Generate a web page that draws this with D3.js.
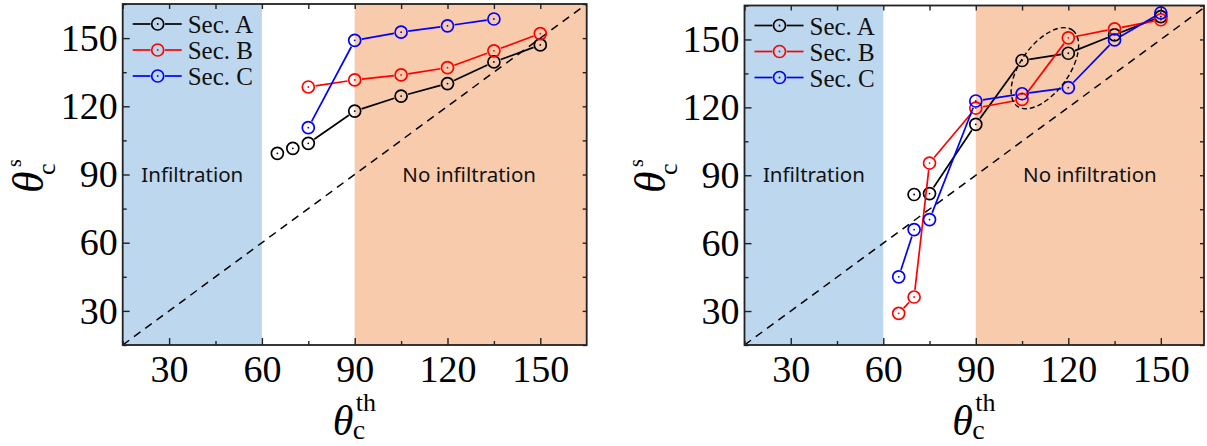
<!DOCTYPE html>
<html>
<head>
<meta charset="utf-8">
<script src="https://cdn.jsdelivr.net/npm/d3@7"></script>
<style>
  body { margin: 0; background: #fff; }
  svg text { font-family: "Liberation Serif", "Times New Roman", serif; }
  .zone { font-family: "Noto Sans", "Open Sans", sans-serif !important; font-size: 20.5px; }
</style>
</head>
<body>
<div id="chart"></div>
<script>
// values, theta_th on x, theta_s on y
var thetaTh = [65, 70, 75, 90, 105, 120, 135, 150];
var leftSecA = [99.3, 101.5, 103.7, 117.9, 124.5, 130, 139.5, 147];
var leftSecB = [null, null, 128.5, 131.6, 133.8, 137, 144.4, 152];
var leftSecC = [null, null, 110.6, 149, 152.6, 155.4, 158.4, null];
var rightSecA = [null, 81.5, 81.9, 112.5, 140.7, 143.9, 152, 160.1];
var rightSecB = [29, 36.2, 95.4, 119.7, 123.5, 150.7, 154.7, 158.7];
var rightSecC = [45.1, 66, 70.4, 122.8, 126, 128.7, 149.8, 161.7];

var sections = ["Sec. A", "Sec. B", "Sec. C"];
var colors = ["#000000", "#ff0000", "#0000ff"];
var majorTicks = [30, 60, 90, 120, 150];
var minorTicks = [15, 45, 75, 105, 135, 165];
var zones = [{label: "Infiltration", from: 15, to: 60, at: 37.5, fill: "#bdd7ee"},
             {label: "No infiltration", from: 90, to: 165, at: 127, fill: "#f8cbad"}];

var svg = d3.select("#chart").append("svg")
    .attr("width", 1207)
    .attr("height", 446);

var r = 6, gap = 1.2, lw = 1.7;

function drawPanel(id, left, right, top, xMax, series, ellipse) {
  var bottom = 345;
  var x = d3.scaleLinear().domain([15, xMax]).range([left, right]);
  var y = d3.scaleLinear().domain([15, 165]).range([bottom, top]);
  var g = svg.append("g");

  g.append("clipPath").attr("id", id)
    .append("rect")
      .attr("x", left).attr("y", top)
      .attr("width", right - left).attr("height", bottom - top);

  g.selectAll(".zone-bg")
      .data(zones)
    .enter().append("rect")
      .attr("x", function(d) { return x(d.from); })
      .attr("y", top)
      .attr("width", function(d) { return x(Math.min(d.to, xMax)) - x(d.from); })
      .attr("height", bottom - top)
      .attr("fill", function(d) { return d.fill; });

  g.selectAll(".zone")
      .data(zones)
    .enter().append("text")
      .attr("class", "zone")
      .attr("x", function(d) { return x(d.at); })
      .attr("y", y(90) + 7)
      .attr("text-anchor", "middle")
      .attr("fill", "#111")
      .text(function(d) { return d.label; });

  // y = x reference
  g.append("line")
    .attr("clip-path", "url(#" + id + ")")
    .attr("x1", x(15)).attr("y1", y(15))
    .attr("x2", x(xMax)).attr("y2", y(xMax))
    .attr("stroke", "#000")
    .attr("stroke-width", 1.5)
    .attr("stroke-dasharray", "8,6");

  series.forEach(function(vals, k) {
    var pts = [];
    vals.forEach(function(v, i) {
      if (v != null) pts.push({px: x(thetaTh[i]), py: y(v), i: i});
    });
    // line segments with a gap round each marker
    for (var j = 0; j < pts.length - 1; j++) {
      var a = pts[j], b = pts[j + 1];
      if (b.i != a.i + 1) continue;
      var dx = b.px - a.px, dy = b.py - a.py, len = Math.sqrt(dx * dx + dy * dy);
      var cut = r + gap;
      if (len - 2 * cut < 4) continue;
      g.append("line")
        .attr("x1", a.px + dx / len * cut).attr("y1", a.py + dy / len * cut)
        .attr("x2", b.px - dx / len * cut).attr("y2", b.py - dy / len * cut)
        .attr("stroke", colors[k])
        .attr("stroke-width", lw);
    }
    var m = g.selectAll(".m" + k)
        .data(pts)
      .enter().append("g")
        .attr("transform", function(d) { return "translate(" + d.px + "," + d.py + ")"; });
    m.append("circle").attr("r", r)
      .attr("fill", "none").attr("stroke", colors[k]).attr("stroke-width", lw);
    m.append("circle").attr("r", 0.9).attr("fill", colors[k]);
  });

  if (ellipse) {
    g.append("ellipse")
      .attr("transform", "translate(" + x(ellipse.cx) + "," + y(ellipse.cy) + ") rotate(" + ellipse.angle + ")")
      .attr("rx", ellipse.rx).attr("ry", ellipse.ry)
      .attr("fill", "none")
      .attr("stroke", "#000")
      .attr("stroke-width", 1.4)
      .attr("stroke-dasharray", "5,3");
  }

  // legend
  var leg = g.append("g").attr("transform", "translate(" + (left + 10) + "," + (top + 20) + ")");
  sections.forEach(function(s, k) {
    var row = leg.append("g").attr("transform", "translate(0," + (k * 26) + ")");
    row.append("line").attr("x1", 0).attr("x2", 25 - r - gap)
      .attr("stroke", colors[k]).attr("stroke-width", lw);
    row.append("line").attr("x1", 25 + r + gap).attr("x2", 49)
      .attr("stroke", colors[k]).attr("stroke-width", lw);
    row.append("circle").attr("cx", 25).attr("r", r)
      .attr("fill", "none").attr("stroke", colors[k]).attr("stroke-width", lw);
    row.append("circle").attr("cx", 25).attr("r", 0.9).attr("fill", colors[k]);
    row.append("text").attr("x", 55).attr("y", 9)
      .style("font-size", "25px").attr("fill", "#111").text(s);
  });

  // axes: inward ticks on all four sides
  function styleAxis(sel) {
    sel.select(".domain").remove();
    sel.selectAll(".tick line").attr("stroke", "#222").attr("stroke-width", 1.4);
    sel.selectAll("text").style("font-size", "38px").attr("fill", "#000");
  }
  g.append("g").attr("transform", "translate(0," + bottom + ")")
    .call(d3.axisBottom(x).tickValues(majorTicks).tickSizeInner(-7).tickSizeOuter(0).tickPadding(10))
    .call(styleAxis);
  g.append("g").attr("transform", "translate(0," + bottom + ")")
    .call(d3.axisBottom(x).tickValues(minorTicks.filter(function(t) { return t < xMax; })).tickSizeInner(-4).tickSizeOuter(0).tickFormat(""))
    .call(styleAxis);
  g.append("g").attr("transform", "translate(0," + top + ")")
    .call(d3.axisTop(x).tickValues(majorTicks.concat(minorTicks).filter(function(t) { return t < xMax; })).tickSizeInner(-5).tickSizeOuter(0).tickFormat(""))
    .call(styleAxis);
  g.append("g").attr("transform", "translate(" + left + ",0)")
    .call(d3.axisLeft(y).tickValues(majorTicks).tickSizeInner(-7).tickSizeOuter(0).tickPadding(5))
    .call(styleAxis);
  g.append("g").attr("transform", "translate(" + left + ",0)")
    .call(d3.axisLeft(y).tickValues(minorTicks).tickSizeInner(-4).tickSizeOuter(0).tickFormat(""))
    .call(styleAxis);
  g.append("g").attr("transform", "translate(" + right + ",0)")
    .call(d3.axisRight(y).tickValues(majorTicks.concat(minorTicks)).tickSizeInner(-4).tickSizeOuter(0).tickFormat(""))
    .call(styleAxis);

  g.append("rect")
    .attr("x", left).attr("y", top)
    .attr("width", right - left).attr("height", bottom - top)
    .attr("fill", "none").attr("stroke", "#222").attr("stroke-width", 1.8);

  // axis titles
  var cx = (left + right) / 2;
  g.append("text").attr("x", cx - 22).attr("y", bottom + 90)
    .style("font-size", "42px").style("font-style", "italic").text("\u03b8");
  g.append("text").attr("x", cx - 2).attr("y", bottom + 94)
    .style("font-size", "28px").text("c");
  g.append("text").attr("x", cx + 1).attr("y", bottom + 66)
    .style("font-size", "26px").text("th");

  var yt = g.append("g").attr("transform", "translate(" + (left - 80) + ",193) rotate(-90)");
  yt.append("text").attr("x", 0).attr("y", 0)
    .style("font-size", "44px").style("font-style", "italic").text("\u03b8");
  yt.append("text").attr("x", 18).attr("y", 12)
    .style("font-size", "26px").text("c");
  yt.append("text").attr("x", 26).attr("y", -22)
    .style("font-size", "20px").text("s");
}

drawPanel("clipL", 122.7, 586.7, 4, 165, [leftSecA, leftSecB, leftSecC], null);
drawPanel("clipR", 744.5, 1204, 5.5, 164, [rightSecA, rightSecB, rightSecC],
  {cx: 112.4, cy: 137.3, rx: 47, ry: 24, angle: -54});
</script>
</body>
</html>
